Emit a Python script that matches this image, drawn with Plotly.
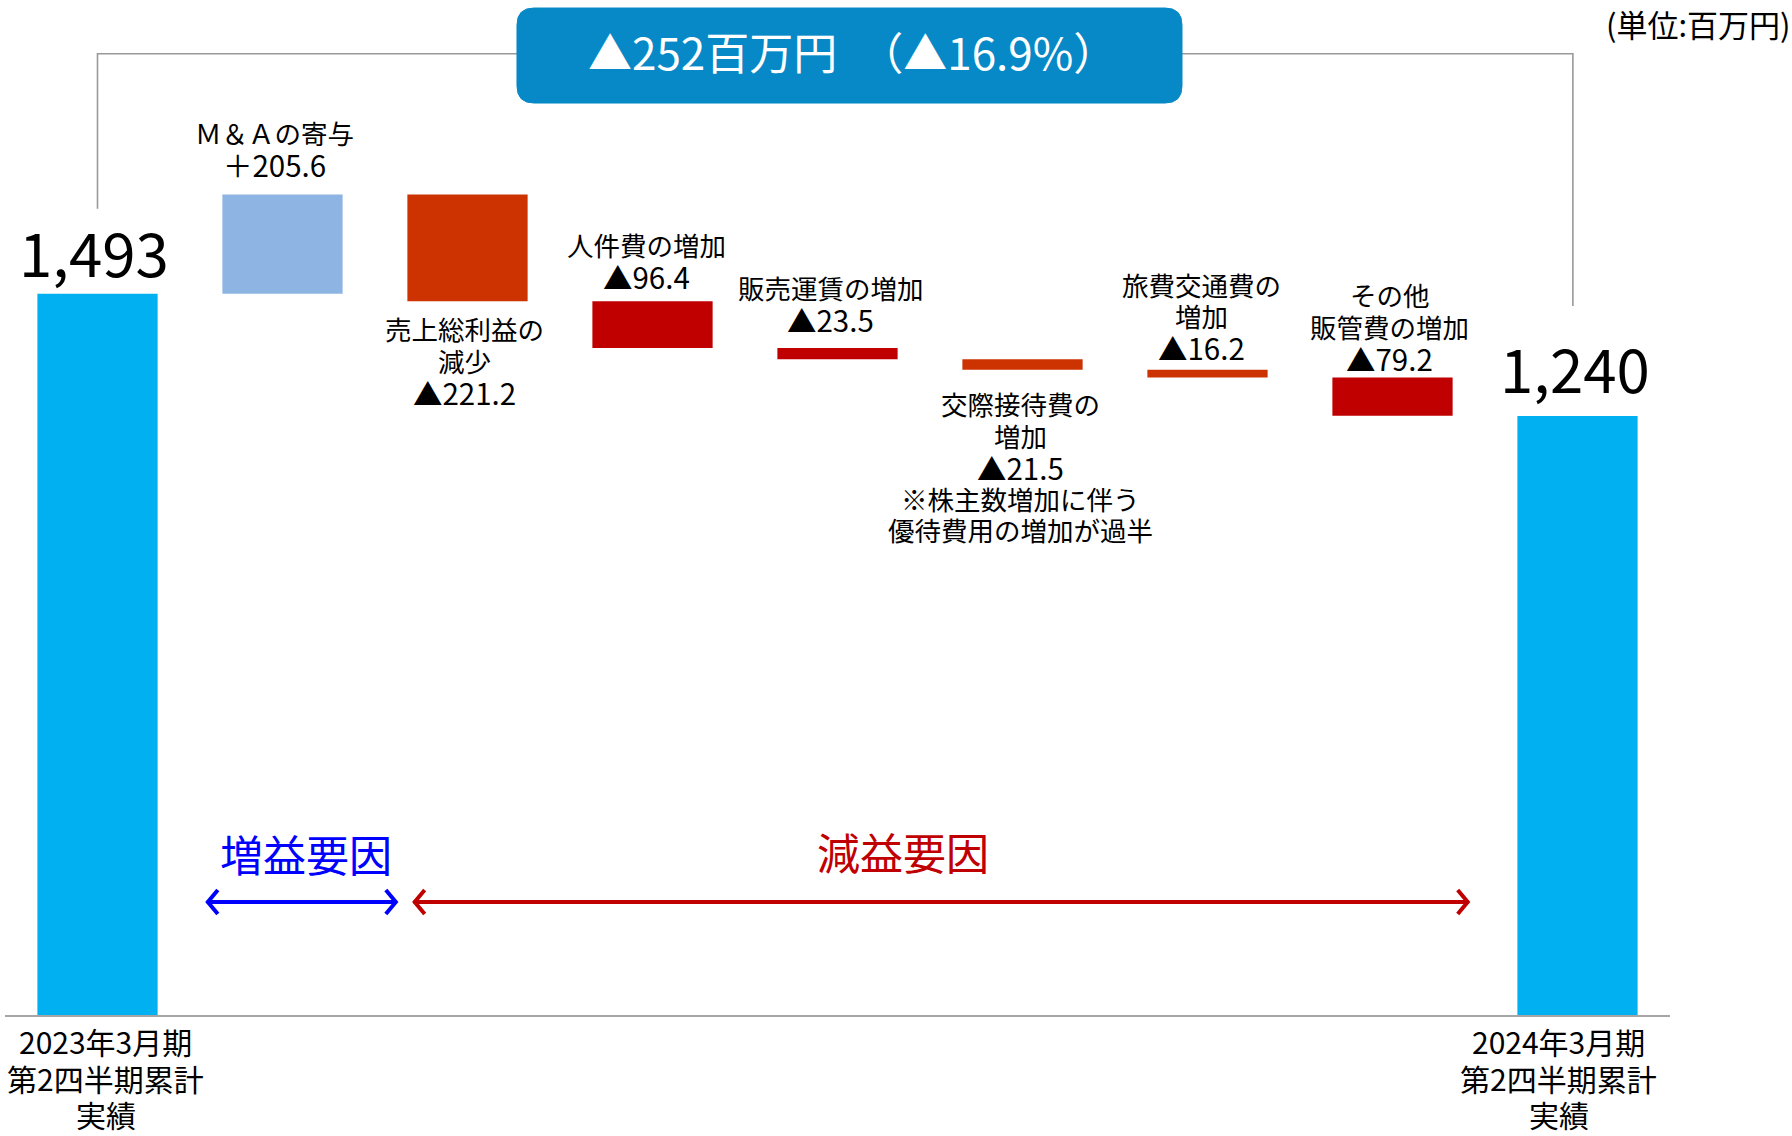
import plotly.graph_objects as go

# ---------------- data ----------------
categories = [
    "2023年3月期<br>第2四半期累計<br>実績",
    "Ｍ＆Ａの寄与",
    "売上総利益の<br>減少",
    "人件費の増加",
    "販売運賃の増加",
    "交際接待費の<br>増加",
    "旅費交通費の<br>増加",
    "その他<br>販管費の増加",
    "2024年3月期<br>第2四半期累計<br>実績",
]
start_value = 1493
end_value = 1240
changes = [205.6, -221.2, -96.4, -23.5, -21.5, -16.2, -79.2]
notes = ["", "", "", "", "※株主数増加に伴う<br>優待費用の増加が過半", "", ""]
total_change_text = "▲252百万円　（▲16.9%）"
unit_text = "(単位:百万円)"
gain_text = "増益要因"
loss_text = "減益要因"

# ---------------- styles ----------------
bar_colors = ["#00B0F0", "#8DB4E2", "#CC3300", "#C00000", "#C00000",
              "#CC3300", "#CC3300", "#C00000", "#00B0F0"]
FONT = "Noto Sans CJK JP"
PX_PER_UNIT = 0.48305
PLOT_H = 1015
LINE_STEP = 31.5

# ---------------- waterfall geometry from data ----------------
x = list(range(len(categories)))
bases, heights = [0], [start_value]
running = start_value
for c in changes:
    if c >= 0:
        bases.append(running)
        heights.append(c)
    else:
        bases.append(running + c)
        heights.append(-c)
    running += c
bases.append(0)
heights.append(end_value)
tops = [b + h for b, h in zip(bases, heights)]

fig = go.Figure()
fig.add_trace(go.Bar(
    x=x, y=heights, base=bases, width=0.65,
    marker=dict(color=bar_colors, line=dict(width=0)),
    hoverinfo="skip",
))

annotations = []
# change labels (one annotation per line for tight line spacing)
side = ["above", "below", "above", "above", "below", "above", "above"]
yshifts = [46, -59, 41, 45, -97, 54, 51]
xshifts = [-8, -3, -6, -7, -2, -6, -3]
for k, c in enumerate(changes):
    i = k + 1
    val = ("＋" if c >= 0 else "▲") + f"{abs(c):.1f}"
    name_lines = categories[i].split("<br>")
    note_lines = notes[k].split("<br>") if notes[k] else []
    lines = [(t, 26.5) for t in name_lines] + [(val, 29.5)] + [(t, 26.5) for t in note_lines]
    n = len(lines)
    yref_val = tops[i] if side[k] == "above" else bases[i]
    for j, (t, fs) in enumerate(lines):
        offset = ((n - 1) / 2 - j) * LINE_STEP
        annotations.append(dict(
            x=i, y=yref_val, xref="x", yref="y", text=t, showarrow=False,
            yanchor="middle", xanchor="center",
            yshift=yshifts[k] + offset, xshift=xshifts[k],
            font=dict(family=FONT, size=fs, color="#000000"),
        ))

# totals labels
for i, v, ys, xs in [(0, start_value, 43, -4), (8, end_value, 50, -3)]:
    annotations.append(dict(
        x=i, y=tops[i], xref="x", yref="y", text=f"{v:,}", showarrow=False,
        yanchor="middle", xanchor="center", yshift=ys, xshift=xs,
        font=dict(family=FONT, size=60, color="#000000"),
    ))
# bottom category labels (one annotation per line)
bottom_line_shifts = [-26, -63, -99]
for i, xs in [(0, 8), (8, -19)]:
    for j, t in enumerate(categories[i].split("<br>")):
        annotations.append(dict(
            x=i, y=0, xref="x", yref="paper", text=t, showarrow=False,
            yanchor="middle", xanchor="center", yshift=bottom_line_shifts[j], xshift=xs,
            font=dict(family=FONT, size=30, color="#000000"),
        ))

# factor labels
annotations.append(dict(x=1.126, y=335, xref="x", yref="y", text=gain_text, showarrow=False,
                        xanchor="center", yanchor="middle",
                        font=dict(family=FONT, size=43, color="#0000FF")))
annotations.append(dict(x=4.353, y=339, xref="x", yref="y", text=loss_text, showarrow=False,
                        xanchor="center", yanchor="middle",
                        font=dict(family=FONT, size=43, color="#C00000")))

# box text
annotations.append(dict(x=0.5093, y=0.9498, xref="paper", yref="paper", text=total_change_text,
                        showarrow=False, xanchor="center", yanchor="middle",
                        font=dict(family=FONT, size=44, color="#FFFFFF")))
# unit text
annotations.append(dict(x=1.0739, y=0.9768, xref="paper", yref="paper", text=unit_text,
                        showarrow=False, xanchor="right", yanchor="middle",
                        font=dict(family=FONT, size=31, color="#000000")))

shapes = []
# connector line
shapes.append(dict(type="path", xref="x", yref="y",
                   path="M 0,1669 L 0,1990 L 7.975,1990 L 7.975,1468",
                   line=dict(color="#999999", width=1.6)))
# rounded box
shapes.append(dict(
    type="path", xref="paper", yref="paper", xsizemode="pixel", ysizemode="pixel",
    xanchor=0.5072, yanchor=0.9453,
    path=("M -315.5,-47.5 L 315.5,-47.5 Q 332.5,-47.5 332.5,-30.5 L 332.5,30.5 "
          "Q 332.5,47.5 315.5,47.5 L -315.5,47.5 Q -332.5,47.5 -332.5,30.5 "
          "L -332.5,-30.5 Q -332.5,-47.5 -315.5,-47.5 Z"),
    fillcolor="#0689C6", line=dict(color="#0689C6", width=1),
))
# double arrows
for x0, x1, col in [(0.591, 1.618, "#0000FF"), (1.709, 7.412, "#C00000")]:
    yv = 234
    shapes.append(dict(type="line", xref="x", yref="y", x0=x0, x1=x1, y0=yv, y1=yv,
                       line=dict(color=col, width=4)))
    shapes.append(dict(type="path", xref="x", yref="y", xsizemode="pixel", ysizemode="pixel",
                       xanchor=x0, yanchor=yv, path="M 11,-12 L 1,0 L 11,12",
                       line=dict(color=col, width=4)))
    shapes.append(dict(type="path", xref="x", yref="y", xsizemode="pixel", ysizemode="pixel",
                       xanchor=x1, yanchor=yv, path="M -11,-12 L -1,0 L -11,12",
                       line=dict(color=col, width=4)))

fig.update_layout(
    width=1792, height=1136,
    margin=dict(l=5, r=122, t=0, b=121),
    paper_bgcolor="#FFFFFF", plot_bgcolor="#FFFFFF",
    showlegend=False,
    annotations=annotations, shapes=shapes,
    xaxis=dict(range=[-0.5, 8.5], showgrid=False, zeroline=False, showticklabels=False,
               ticks="", showline=True, linecolor="#A6A6A6", linewidth=2, fixedrange=True),
    yaxis=dict(range=[0, PLOT_H / PX_PER_UNIT], visible=False, fixedrange=True),
    bargap=0.35,
)

fig.write_html("out.html", config={"displayModeBar": False},
               post_script="document.body.style.margin='0';document.body.style.overflow='hidden';")
